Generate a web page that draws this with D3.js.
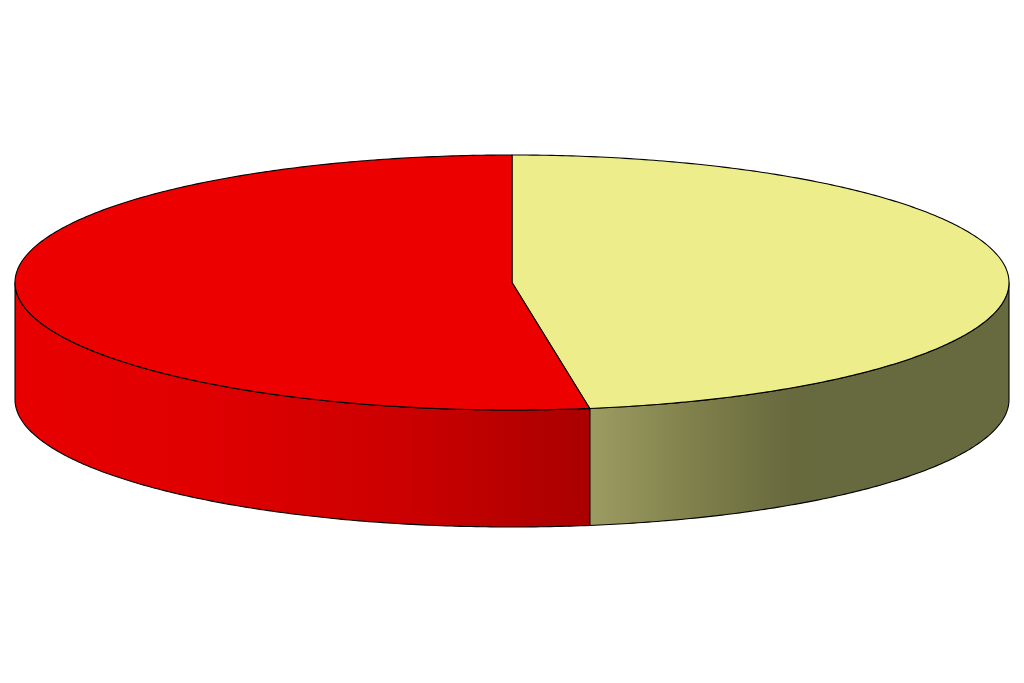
<!DOCTYPE html>
<html>
<head>
<meta charset="utf-8">
<script src="https://cdn.jsdelivr.net/npm/d3@7"></script>
<style>
  html, body { margin: 0; padding: 0; background: #fff; }
  svg { display: block; }
</style>
</head>
<body>
<div id="chart"></div>
<script>
// slice data, clockwise from 12 o'clock
var categories = ["Slice 1", "Slice 2"];
var values = [47.5, 52.5];
var topColors = ["#eded8c", "#ec0000"];
var sideStops = [
    [[0.578, "#9c9c62"], [0.69, "#7e7e4a"], [0.78, "#686a3e"], [1, "#666a3e"]],
    [[0, "#e80000"], [0.19, "#e00000"], [0.39, "#cc0000"], [0.578, "#aa0000"]]
];

var width = 1024, height = 683;
var depth = 117;

var svg = d3.select("#chart").append("svg")
    .attr("width", width)
    .attr("height", height);

// unit circle -> screen ellipse
var x = d3.scaleLinear().domain([-1, 1]).range([15, 1009]);
var y = d3.scaleLinear().domain([-1, 1]).range([155, 410]);

var pie = d3.pie().sort(null).value(function (d) { return d; });
var arcs = pie(values);

function pt(a, dy) {
    return [x(Math.sin(a)), y(-Math.cos(a)) + (dy || 0)];
}

function arcPoints(a0, a1, dy) {
    var n = Math.max(2, Math.ceil(Math.abs(a1 - a0) / 0.01));
    return d3.range(n + 1).map(function (i) {
        return pt(a0 + (a1 - a0) * i / n, dy);
    });
}

var line = d3.line();

var defs = svg.append("defs");
sideStops.forEach(function (stops, i) {
    var g = defs.append("linearGradient")
        .attr("id", "side" + i)
        .attr("gradientUnits", "userSpaceOnUse")
        .attr("x1", x(-1)).attr("x2", x(1))
        .attr("y1", 0).attr("y2", 0);
    stops.forEach(function (s) {
        g.append("stop").attr("offset", s[0]).attr("stop-color", s[1]);
    });
});

// side walls (front half only)
var front0 = Math.PI / 2, front1 = Math.PI * 1.5;
svg.append("g")
    .selectAll("path")
    .data(arcs)
    .enter().append("path")
    .attr("d", function (d) {
        var a0 = Math.max(d.startAngle, front0);
        var a1 = Math.min(d.endAngle, front1);
        if (a1 <= a0) return null;
        var pts = arcPoints(a0, a1, 0).concat(arcPoints(a1, a0, depth));
        return line(pts) + "Z";
    })
    .attr("fill", function (d, i) { return "url(#side" + i + ")"; })
    .attr("stroke", "#000")
    .attr("stroke-width", 1.1)
    .attr("stroke-linejoin", "round");

// tops
svg.append("g")
    .selectAll("path")
    .data(arcs)
    .enter().append("path")
    .attr("d", function (d) {
        var pts = [[x(0), y(0)]].concat(arcPoints(d.startAngle, d.endAngle, 0));
        return line(pts) + "Z";
    })
    .attr("fill", function (d, i) { return topColors[i]; })
    .attr("stroke", "#000")
    .attr("stroke-width", 1.1)
    .attr("stroke-linejoin", "round");
</script>
</body>
</html>
